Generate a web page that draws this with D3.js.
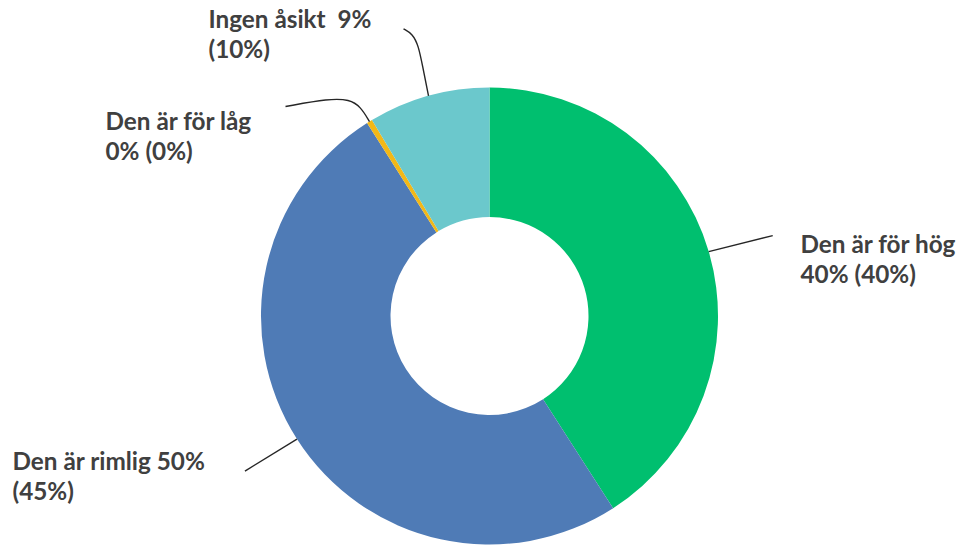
<!DOCTYPE html>
<html>
<head>
<meta charset="utf-8">
<script src="https://cdn.jsdelivr.net/npm/d3@7"></script>
<style>
  html, body { margin: 0; padding: 0; background: #fff; }
  svg { display: block; }
  text { font-family: "Lato", "Open Sans", sans-serif; font-weight: 700; fill: #404040; white-space: pre; }
</style>
</head>
<body>
<svg id="chart" width="961" height="545"></svg>
<script>
// ---- data ----
const categories = ["Den är för hög", "Den är rimlig", "Den är för låg", "Ingen åsikt"];
const values = [40.9, 50.1, 0.4, 8.6];
const labelLine1 = ["Den är för hög", "Den är rimlig 50%", "Den är för låg", "Ingen åsikt  9%"];
const labelLine2 = ["40% (40%)", "(45%)", "0% (0%)", "(10%)"];
const colors = ["#00BF6F", "#4F7BB6", "#F2B817", "#6BC8CC"];

// ---- layout ----
const W = 961, H = 545;
const cx = 489.5, cy = 316, R = 228.5, r0 = 99;
const fontSize = 24.3, lineGap = 30;

// leader line shapes (offsets from slice anchor on outer edge) and label anchors (relative to center)
const leaderOffsets = [
  [[0, 0], [64, -16]],
  [[0, 0], [-52, 32]],
  [[0, 0], [-9, -15], [-20, -22], [-40, -23], [-84, -15]],
  [[0, 0], [-6, -30], [-10, -50], [-16, -62], [-25, -67]]
];
const labelPos = [[311, -63], [-477, 154], [-384, -186], [-281, -288]];

const svg = d3.select("#chart");
const g = svg.append("g").attr("transform", `translate(${cx},${cy})`);

const pie = d3.pie().sort(null).value(d => d).startAngle(0).endAngle(2 * Math.PI);
const arcs = pie(values);
const arc = d3.arc().innerRadius(r0).outerRadius(R);

g.selectAll("path.slice")
  .data(arcs)
  .join("path")
  .attr("class", "slice")
  .attr("d", arc)
  .attr("fill", (d, i) => colors[i]);

const line = d3.line().curve(d3.curveBasis);
arcs.forEach((d, i) => {
  const a = (d.startAngle + d.endAngle) / 2;
  const sx = R * Math.sin(a), sy = -R * Math.cos(a);
  const pts = leaderOffsets[i].map(p => [sx + p[0], sy + p[1]]);
  g.append("path")
    .attr("d", line(pts))
    .attr("fill", "none")
    .attr("stroke", "#262626")
    .attr("stroke-width", 1.4);
});

categories.forEach((c, i) => {
  const t = g.append("text")
    .attr("x", labelPos[i][0])
    .attr("y", labelPos[i][1])
    .style("font-size", fontSize + "px");
  t.append("tspan").attr("x", labelPos[i][0]).text(labelLine1[i]);
  t.append("tspan").attr("x", labelPos[i][0]).attr("dy", lineGap).text(labelLine2[i]);
});
</script>
</body>
</html>
